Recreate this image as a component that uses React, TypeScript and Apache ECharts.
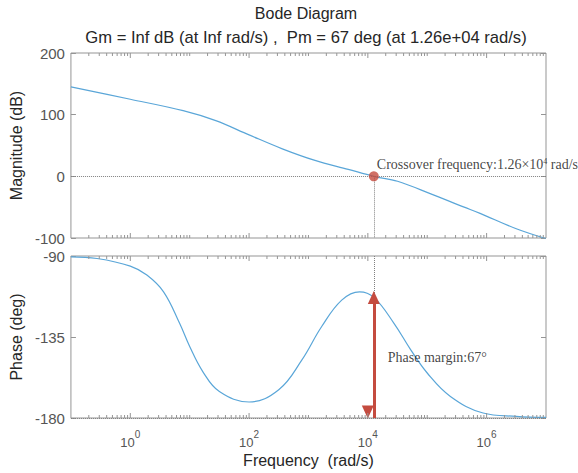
import React, { useEffect, useRef } from "react";
import * as echarts from "echarts";

// ---- data ----
const magFreq = [0.1, 1, 7.76, 27.5, 100, 363, 1288, 4677, 12600, 31620, 112200, 407400, 776200, 3162000, 10000000];
const magDb = [145, 125, 106.5, 90.3, 67.2, 44.6, 25.8, 11.3, 0, -8, -28, -49.5, -60, -85, -101];

const phaseFreq = [0.1, 0.275, 1, 1.9, 3.63, 6.76, 10, 16.6, 31.6, 100, 316, 776, 1660, 3630, 7244, 12600, 27540, 52480, 100000, 245500, 871000, 3160000, 10000000];
const phaseDeg = [-90.5, -91.4, -95.6, -100.6, -109.9, -127.4, -140.3, -154.2, -165.3, -171.1, -164.3, -147.7, -129.3, -114.5, -109.9, -113, -127.4, -142, -155, -168, -177.2, -179.1, -179.7];

const crossoverFreq = 1.26e4;
const crossoverPhase = -113;
const phaseFloor = -180;

const freqMin = 0.1;
const freqMax = 1e7;
const labeledDecades = [0, 2, 4, 6];
const magAxis = { min: -100, max: 200, step: 100 };
const phaseAxis = { min: -180, max: -90, step: 45 };

const titleLines = ["Bode Diagram", "Gm = Inf dB (at Inf rad/s) ,  Pm = 67 deg (at 1.26e+04 rad/s)"];
const crossoverText = "Crossover frequency:1.26×10{sup|4} rad/s";
const marginText = "Phase margin:67°";

const BLUE = "#5aa6d8";
const RED = "#c44b3f";
const FRAME = "#959595";
const LABEL = "#555555";
const SANS = "'Liberation Sans', Arial, sans-serif";
const SERIF = "'Liberation Serif', 'Times New Roman', serif";

function buildFreqTicks(): number[][] {
  const out: number[][] = [];
  for (let e = -1; e < 7; e++) {
    for (let m = 1; m <= 9; m++) {
      const v = m * Math.pow(10, e);
      if (v > freqMin && v < freqMax) {
        out.push([v, m === 1 && labeledDecades.includes(e) ? 1 : 0]);
      }
    }
  }
  return out;
}
const freqTicks = buildFreqTicks();

function tickSeries(xi: number, yi: number, ymin: number, ymax: number) {
  return {
    type: "custom",
    xAxisIndex: xi,
    yAxisIndex: yi,
    silent: true,
    clip: false,
    z: 5,
    data: freqTicks,
    renderItem: (_p: any, api: any) => {
      const v = api.value(0);
      const len = api.value(1) === 1 ? 5 : 3;
      const t = api.coord([v, ymax]);
      const b = api.coord([v, ymin]);
      return {
        type: "group",
        children: [
          { type: "line", shape: { x1: t[0], y1: t[1], x2: t[0], y2: t[1] + len }, style: { stroke: FRAME, lineWidth: 1 } },
          { type: "line", shape: { x1: b[0], y1: b[1], x2: b[0], y2: b[1] - len }, style: { stroke: FRAME, lineWidth: 1 } },
        ],
      };
    },
  };
}

function yAxisDef(gi: number, ax: { min: number; max: number; step: number }, right: boolean, name?: string) {
  return {
    type: "value",
    gridIndex: gi,
    position: right ? "right" : "left",
    min: ax.min,
    max: ax.max,
    interval: ax.step,
    axisLine: { show: false },
    axisTick: { show: true, inside: true, length: 5, lineStyle: { color: FRAME } },
    splitLine: { show: false },
    axisLabel: right
      ? { show: false }
      : { show: true, color: LABEL, fontSize: 15, fontFamily: SANS, margin: 6 },
    name: name || "",
    nameLocation: "middle",
    nameGap: 42,
    nameTextStyle: { color: "#262626", fontSize: 16, fontFamily: SANS },
  };
}

export default function App() {
  const ref = useRef<HTMLDivElement>(null);
  useEffect(() => {
    if (!ref.current) return;
    const chart = echarts.init(ref.current, undefined, { renderer: "svg" });
    const gridCenter = 66 + 240;
    const option: any = {
      animation: false,
      backgroundColor: "#ffffff",
      graphic: [
        { type: "text", x: gridCenter, y: 13, style: { text: titleLines[0], fill: "#262626", font: `16px ${SANS}`, textAlign: "center", textVerticalAlign: "middle" } },
        { type: "text", x: gridCenter, y: 37, style: { text: titleLines[1], fill: "#262626", font: `16.6px ${SANS}`, textAlign: "center", textVerticalAlign: "middle" } },
      ],
      grid: [
        { left: 66, top: 53, width: 480, height: 185, show: true, borderColor: FRAME, borderWidth: 1, backgroundColor: "#fff" },
        { left: 66, top: 256, width: 480, height: 162, show: true, borderColor: FRAME, borderWidth: 1, backgroundColor: "#fff" },
      ],
      xAxis: [
        {
          type: "log", logBase: 10, gridIndex: 0, min: freqMin, max: freqMax,
          axisLine: { show: false }, axisTick: { show: false }, axisLabel: { show: false }, splitLine: { show: false },
        },
        {
          type: "log", logBase: 10, gridIndex: 1, min: freqMin, max: freqMax,
          axisLine: { show: false }, axisTick: { show: false }, splitLine: { show: false },
          axisLabel: {
            show: true,
            margin: 11,
            formatter: (v: number) => {
              const e = Math.round(Math.log10(v));
              return labeledDecades.includes(e) ? `{base|10}{sup|${e}}` : "";
            },
            rich: {
              base: { fontSize: 13, fontFamily: SANS, color: LABEL, lineHeight: 20, verticalAlign: "bottom" },
              sup: { fontSize: 10, fontFamily: SANS, color: LABEL, lineHeight: 6, verticalAlign: "top" },
            },
          },
          name: "Frequency  (rad/s)",
          nameLocation: "middle",
          nameGap: 34,
          nameTextStyle: { color: "#262626", fontSize: 16, fontFamily: SANS },
        },
      ],
      yAxis: [
        yAxisDef(0, magAxis, false, "Magnitude (dB)"),
        yAxisDef(0, magAxis, true),
        yAxisDef(1, phaseAxis, false, "Phase (deg)"),
        yAxisDef(1, phaseAxis, true),
      ],
      series: [
        tickSeries(0, 0, magAxis.min, magAxis.max),
        tickSeries(1, 2, phaseAxis.min, phaseAxis.max),
        {
          type: "line",
          xAxisIndex: 0,
          yAxisIndex: 0,
          data: magFreq.map((f, i) => [f, magDb[i]]),
          showSymbol: false,
          smooth: 0.35,
          lineStyle: { color: BLUE, width: 1.2 },
          markLine: {
            silent: true,
            symbol: "none",
            label: { show: false },
            lineStyle: { type: "dotted", color: "#808080", width: 1 },
            data: [
              { yAxis: 0 },
              [{ coord: [crossoverFreq, 0] }, { coord: [crossoverFreq, magAxis.min] }],
            ],
          },
        },
        {
          type: "scatter",
          xAxisIndex: 0,
          yAxisIndex: 0,
          data: [[crossoverFreq, 0]],
          symbolSize: 10,
          z: 10,
          itemStyle: { color: RED },
          label: {
            show: true,
            position: [8, -14],
            align: "left",
            verticalAlign: "top",
            formatter: crossoverText,
            fontFamily: SERIF,
            fontSize: 14,
            color: "#111",
            rich: {
              sup: { fontFamily: SERIF, fontSize: 8, color: "#111", verticalAlign: "top", lineHeight: 8 },
            },
          },
        },
        {
          type: "line",
          xAxisIndex: 1,
          yAxisIndex: 2,
          data: phaseFreq.map((f, i) => [f, phaseDeg[i]]),
          showSymbol: false,
          smooth: 0.4,
          lineStyle: { color: BLUE, width: 1.2 },
          markLine: {
            silent: true,
            symbol: "none",
            label: { show: false },
            lineStyle: { type: "dotted", color: "#808080", width: 1 },
            data: [
              { yAxis: phaseFloor },
              [{ coord: [crossoverFreq, phaseAxis.max] }, { coord: [crossoverFreq, crossoverPhase] }],
            ],
          },
        },
        {
          type: "scatter",
          xAxisIndex: 1,
          yAxisIndex: 2,
          data: [[crossoverFreq, (crossoverPhase + phaseFloor) / 2]],
          symbolSize: 0,
          itemStyle: { color: "rgba(0,0,0,0)" },
          z: 10,
          label: {
            show: true,
            position: "right",
            distance: 14,
            formatter: marginText,
            fontFamily: SERIF,
            fontSize: 14,
            color: "#111",
          },
          markLine: {
            silent: true,
            symbol: ["triangle", "triangle"],
            symbolSize: [12, 13],
            symbolOffset: [0, 6],
            label: { show: false },
            lineStyle: { type: "solid", color: RED, width: 3, opacity: 1 },
            itemStyle: { color: RED },
            data: [[{ coord: [crossoverFreq, crossoverPhase] }, { coord: [crossoverFreq, phaseFloor] }]],
          },
        },
      ],
    };
    chart.setOption(option);
    return () => chart.dispose();
  }, []);
  return <div ref={ref} style={{ position: "absolute", left: 0, top: 0, width: 578, height: 473 }} />;
}
